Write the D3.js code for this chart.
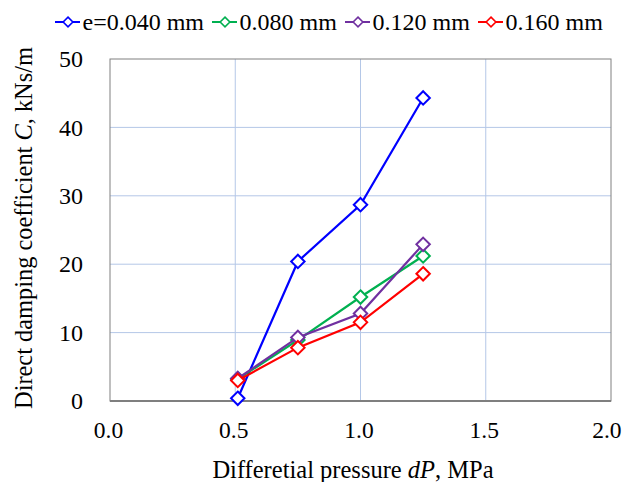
<!DOCTYPE html>
<html><head><meta charset="utf-8">
<script src="https://cdn.jsdelivr.net/npm/d3@7"></script>
<style>body{margin:0;background:#fff}svg{display:block}text{font-family:"Liberation Serif","Times New Roman",serif;fill:#000}</style>
</head><body><svg id="c" width="622" height="482"></svg>
<script>
const pressure = [0.51, 0.75, 1.0, 1.25];
const seriesNames = ["e=0.040 mm", "0.080 mm", "0.120 mm", "0.160 mm"];
const seriesColors = ["#0000ff", "#00b050", "#7030a0", "#ff0000"];
const e040 = [0.4, 20.4, 28.7, 44.3];
const e080 = [3.2, 8.9, 15.2, 21.2];
const e120 = [3.3, 9.3, 12.8, 22.9];
const e160 = [3.0, 7.8, 11.5, 18.6];
const xTicks = [0.0, 0.5, 1.0, 1.5, 2.0];
const yTicks = [0, 10, 20, 30, 40, 50];
const seriesValues = [e040, e080, e120, e160];

const svg = d3.select("#c");
const L = 110, R = 611, T = 59, B = 401;
const x = d3.scaleLinear().domain([0, 2]).range([L, R]);
const y = d3.scaleLinear().domain([0, 50]).range([B, T]);
const FONT = '"Liberation Serif","Times New Roman",serif';

// grid
svg.append("g").selectAll("line").data(xTicks.slice(1, -1)).join("line")
  .attr("x1", d => x(d)).attr("x2", d => x(d)).attr("y1", T).attr("y2", B)
  .attr("stroke", "#b4c7e7").attr("stroke-width", 1);
svg.append("g").selectAll("line").data(yTicks.slice(1, -1)).join("line")
  .attr("y1", d => y(d)).attr("y2", d => y(d)).attr("x1", L).attr("x2", R)
  .attr("stroke", "#b4c7e7").attr("stroke-width", 1);
svg.append("rect").attr("x", L).attr("y", T).attr("width", R - L).attr("height", B - T)
  .attr("fill", "none").attr("stroke", "#808080").attr("stroke-width", 1);
svg.append("line").attr("x1", L).attr("x2", R).attr("y1", B).attr("y2", B)
  .attr("stroke", "#7f7f7f").attr("stroke-width", 2);

// axes via d3
const xa = svg.append("g").attr("transform", `translate(0,${B})`)
  .call(d3.axisBottom(x).tickValues(xTicks).tickFormat(d3.format(".1f")).tickSize(0).tickPadding(0));
const ya = svg.append("g").attr("transform", `translate(${L},0)`)
  .call(d3.axisLeft(y).tickValues(yTicks).tickSize(0).tickPadding(27));
[xa, ya].forEach(a => {
  a.select(".domain").remove();
  a.selectAll("text").attr("fill", "#000").style("font-family", FONT);
});
ya.selectAll("text").style("font-size", "24px").attr("dy", "0.32em");
xa.selectAll("text").style("font-size", "23.5px").attr("y", 36.5).attr("dy", 0).attr("dx", -2);
xa.selectAll("text").filter(d => d === 2).attr("text-anchor", "end").attr("dx", 10);

// titles
const xt = svg.append("text").attr("x", 353).attr("y", 478).attr("text-anchor", "middle").style("font-size", "24.5px");
xt.append("tspan").text("Differetial pressure ");
xt.append("tspan").attr("font-style", "italic").text("dP");
xt.append("tspan").text(", MPa");
const yt = svg.append("text").attr("transform", `translate(31.5,228) rotate(-90)`).attr("text-anchor", "middle").style("font-size", "24.4px");
yt.append("tspan").text("Direct damping coefficient ");
yt.append("tspan").attr("font-style", "italic").text("C");
yt.append("tspan").text(", kNs/m");

const diamond = d3.symbol().type(d3.symbolDiamond2).size(115);
const line = d3.line().x((d, i) => x(pressure[i])).y(d => y(d));

seriesValues.forEach((vals, si) => {
  const g = svg.append("g");
  g.append("path").attr("d", line(vals)).attr("fill", "none")
    .attr("stroke", seriesColors[si]).attr("stroke-width", 2.2);
  g.selectAll("path.m").data(vals).join("path").attr("class", "m")
    .attr("d", diamond).attr("transform", (d, i) => `translate(${x(pressure[i])},${y(d)})`)
    .attr("fill", "#fff").attr("stroke", seriesColors[si]).attr("stroke-width", 2);
});

// legend
const legX = [55, 212, 345, 478];
seriesNames.forEach((n, i) => {
  const g = svg.append("g").attr("transform", `translate(${legX[i]},22)`);
  g.append("line").attr("x1", 0).attr("x2", 25).attr("stroke", seriesColors[i]).attr("stroke-width", 2);
  g.append("path").attr("d", d3.symbol().type(d3.symbolDiamond2).size(60)())
    .attr("transform", "translate(13,0)").attr("fill", "#fff").attr("stroke", seriesColors[i]).attr("stroke-width", 1.6);
  g.append("text").attr("x", 27.5).attr("y", 8).style("font-size", "24px").text(n);
});
</script></body></html>
